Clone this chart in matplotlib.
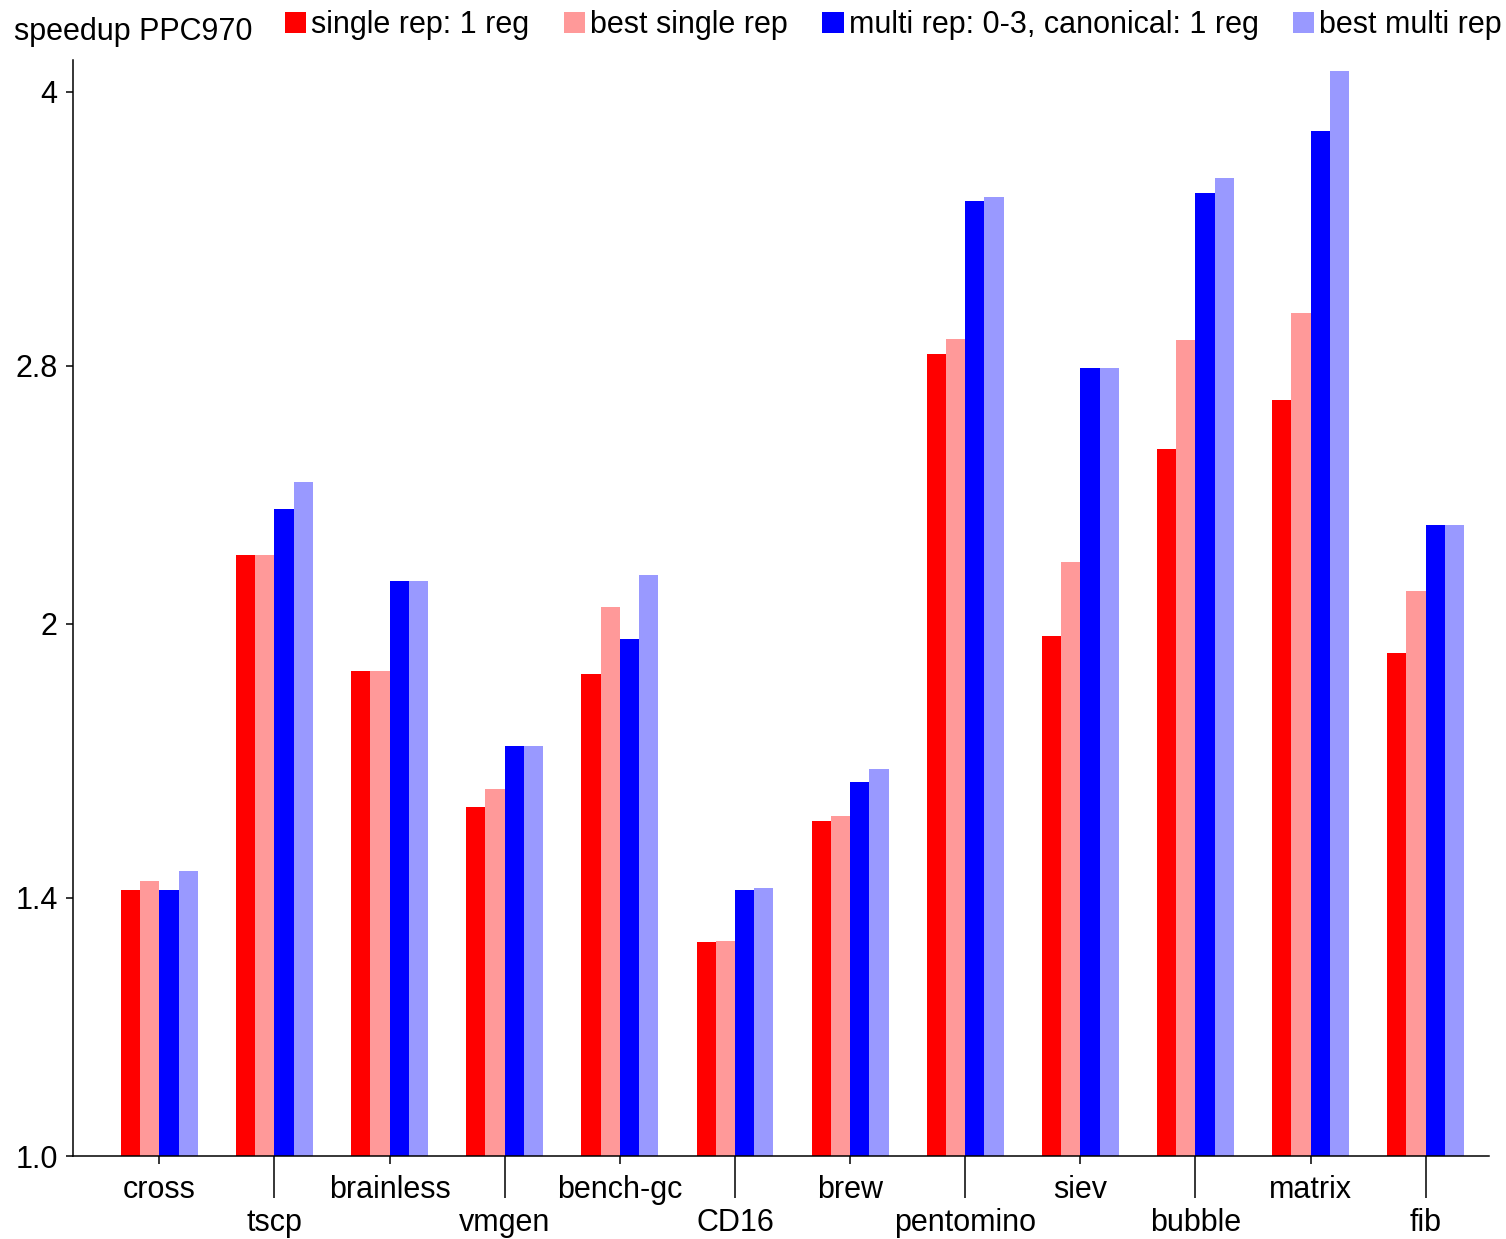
import numpy as np
import matplotlib
matplotlib.use("Agg")
import matplotlib.pyplot as plt
from matplotlib.ticker import FixedLocator, NullLocator

plt.rcParams['font.family'] = ['Liberation Sans', 'DejaVu Sans']

benchmarks = ["cross", "tscp", "brainless", "vmgen", "bench-gc", "CD16",
              "brew", "pentomino", "siev", "bubble", "matrix", "fib"]
single_rep_1reg = [1.414, 2.188, 1.881, 1.576, 1.874, 1.322, 1.547, 2.843, 1.969, 2.512, 2.678, 1.926]
best_single_rep = [1.431, 2.188, 1.881, 1.613, 2.045, 1.323, 1.557, 2.899, 2.168, 2.896, 2.999, 2.088]
multi_rep_canon = [1.414, 2.323, 2.115, 1.706, 1.961, 1.414, 1.628, 3.470, 2.792, 3.507, 3.802, 2.276]
best_multi_rep = [1.450, 2.406, 2.115, 1.706, 2.132, 1.418, 1.656, 3.489, 2.792, 3.576, 4.111, 2.276]
series_labels = ["single rep: 1 reg", "best single rep",
                 "multi rep: 0-3, canonical: 1 reg", "best multi rep"]
series_colors = ["#ff0000", "#ff9999", "#0000ff", "#9999ff"]
yticks = [1.0, 1.4, 2.0, 2.8, 4.0]
ytick_labels = ["1.0", "1.4", "2", "2.8", "4"]

fig = plt.figure(figsize=(15.06, 12.39), dpi=100)
ax = fig.add_axes([73/1506, 1 - 1156/1239, (1489 - 73)/1506, (1156 - 60)/1239])

x = np.arange(len(benchmarks))
w = 0.167
series = [single_rep_1reg, best_single_rep, multi_rep_canon, best_multi_rep]
for i, (vals, lab, col) in enumerate(zip(series, series_labels, series_colors)):
    v = np.array(vals)
    ax.bar(x + (i - 1.5) * w, v - 1.0, bottom=1.0, width=w, color=col,
           label=lab, linewidth=0)

ax.set_yscale('log')
ax.set_ylim(1.0, 4.17)
ax.set_xlim(-0.75, 11.55)
ax.yaxis.set_major_locator(FixedLocator(yticks))
ax.yaxis.set_minor_locator(NullLocator())
ax.set_yticklabels(ytick_labels)

ax.set_xticks(x[0::2])
ax.set_xticklabels(benchmarks[0::2])
ax.set_xticks(x[1::2], minor=True)
ax.set_xticklabels(benchmarks[1::2], minor=True)

for s in ['top', 'right']:
    ax.spines[s].set_visible(False)
for s in ['left', 'bottom']:
    ax.spines[s].set_linewidth(1.1)

ax.tick_params(axis='y', which='major', length=5, width=1.1, pad=6, labelsize=22)
ax.tick_params(axis='x', which='major', length=6, width=1.1, pad=7.5, labelsize=22)
ax.tick_params(axis='x', which='minor', length=30, width=1.1, pad=7.5, labelsize=22)

fig.text(14/1506, 1 - 32/1239, "speedup PPC970", fontsize=22, ha='left', va='center')

ax.legend(loc='upper left', bbox_to_anchor=(285/1506, 1 - 10/1239),
          bbox_transform=fig.transFigure, ncol=4, frameon=False,
          fontsize=22, handlelength=0.69, handleheight=0.69,
          handletextpad=0.17, columnspacing=1.13, borderpad=0, borderaxespad=0)

fig.savefig("out.png", dpi=100)
